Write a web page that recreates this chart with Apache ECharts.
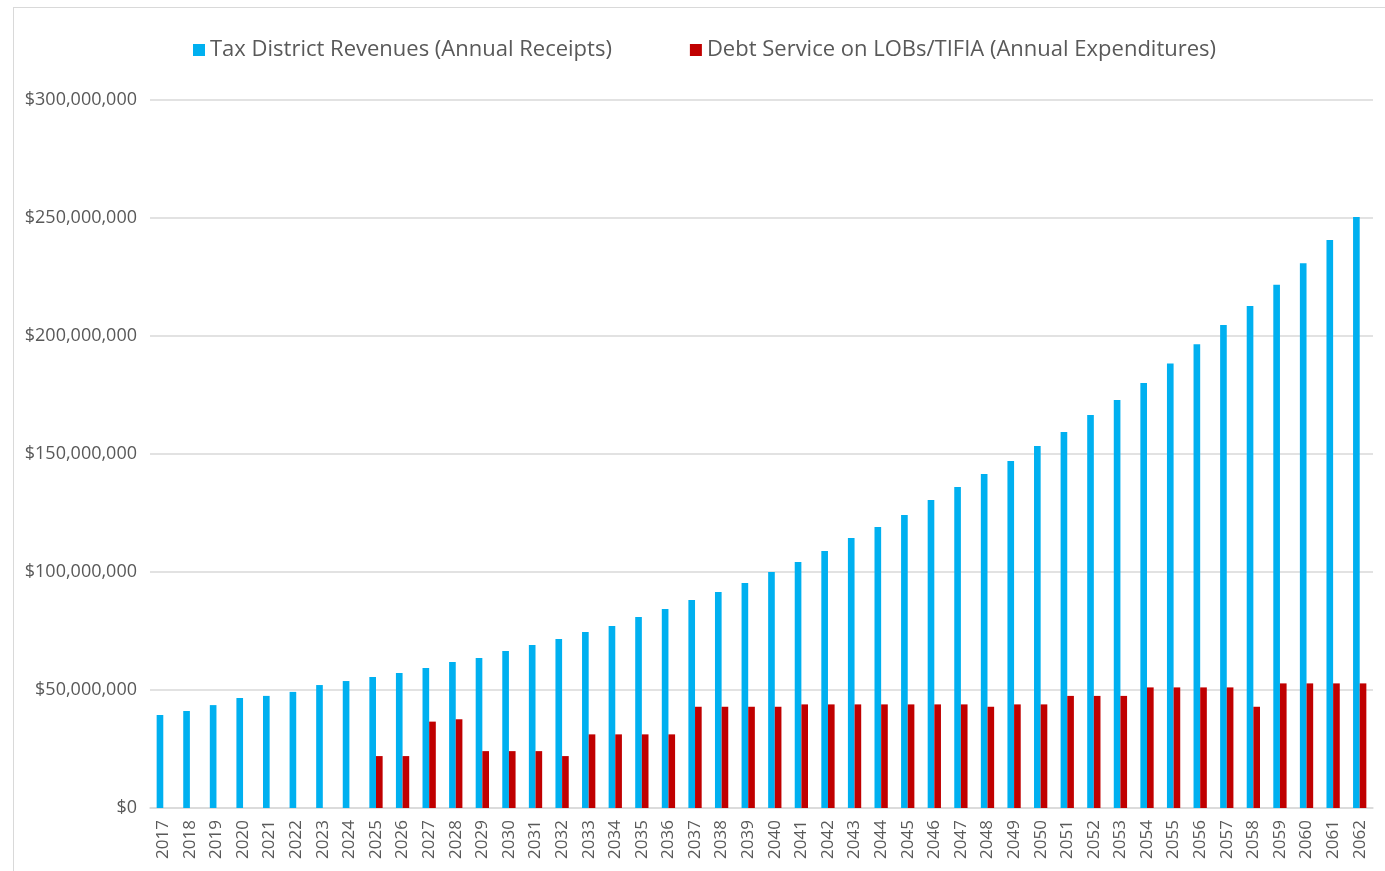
<html lang="en">
  <head>
    <meta charset="UTF-8" />
    <title>Tax District Revenues vs Debt Service</title>
    <style>
      body { margin: 0; background: #fff; }
      #frame { position: absolute; left: 13px; top: 7px; width: 1400px; height: 900px; border: 1px solid #d9d9d9; }
      #main { position: absolute; left: 0; top: 0; width: 1385px; height: 871px; }
    </style>
  </head>
  <body>
    <div id="frame"></div>
    <div id="main"></div>

    <script src="https://cdn.jsdelivr.net/npm/echarts@6/dist/echarts.min.js"></script>
    <script>
      let years = []
      for (let y = 2017; y <= 2062; y++) years.push(String(y))

      // values in $ millions
      let revenues = [
        39.4, 41.1, 43.6, 46.6, 47.5, 49.2, 52.1, 53.8, 55.5, 57.2,
        59.3, 61.9, 63.6, 66.5, 69.1, 71.6, 74.6, 77.1, 80.9, 84.3,
        88.1, 91.5, 95.3, 100.0, 104.2, 108.9, 114.4, 119.1, 124.2, 130.5,
        136.0, 141.5, 147.0, 153.4, 159.3, 166.5, 172.9, 180.1, 188.3, 196.5,
        204.7, 212.7, 221.7, 230.8, 240.7, 250.4
      ]
      let debtService = [
        null, null, null, null, null, null, null, null, 22.0, 22.0,
        36.6, 37.6, 24.1, 24.1, 24.1, 22.0, 31.2, 31.2, 31.2, 31.2,
        42.9, 42.9, 42.9, 42.9, 43.9, 43.9, 43.9, 43.9, 43.9, 43.9,
        43.9, 42.9, 43.9, 43.9, 47.5, 47.5, 47.5, 51.1, 51.1, 51.1,
        51.1, 42.9, 52.8, 52.8, 52.8, 52.8
      ]
      let seriesNames = [
        'Tax District Revenues (Annual Receipts)',
        'Debt Service on LOBs/TIFIA (Annual Expenditures)'
      ]

      let toDollars = arr => arr.map(v => (v == null ? null : Math.round(v * 1e6)))
      let fmt = v => '$' + Math.round(v).toString().replace(/\B(?=(\d{3})+(?!\d))/g, ',')

      let mCharts = echarts.init(document.querySelector('#main'))
      let option = {
        animation: false,
        textStyle: { fontFamily: 'Open Sans' },
        legend: {
          top: 34,
          left: 188,
          itemWidth: 12,
          itemHeight: 12,
          itemGap: 78,
          icon: 'rect',
          textStyle: { fontSize: 22, color: '#595959', fontFamily: 'Open Sans' },
          data: seriesNames
        },
        grid: { left: 150, right: 12, top: 100, bottom: 63 },
        xAxis: {
          type: 'category',
          data: years,
          axisLine: { lineStyle: { color: '#d9d9d9', width: 1.5 } },
          axisTick: { show: false },
          axisLabel: { rotate: 90, fontSize: 17, color: '#595959', margin: 12, interval: 0 }
        },
        yAxis: {
          type: 'value',
          min: 0,
          max: 300000000,
          interval: 50000000,
          axisLine: { show: false },
          axisTick: { show: false },
          splitLine: { lineStyle: { color: '#d9d9d9', width: 1.5 } },
          axisLabel: { fontSize: 18, color: '#595959', margin: 13, formatter: fmt }
        },
        series: [
          {
            name: seriesNames[0],
            type: 'bar',
            data: toDollars(revenues),
            barGap: '0%',
            barCategoryGap: '50%',
            itemStyle: { color: '#00b0f0' }
          },
          {
            name: seriesNames[1],
            type: 'bar',
            data: toDollars(debtService),
            itemStyle: { color: '#c00000' }
          }
        ]
      }
      mCharts.setOption(option)
    </script>
  </body>
</html>
